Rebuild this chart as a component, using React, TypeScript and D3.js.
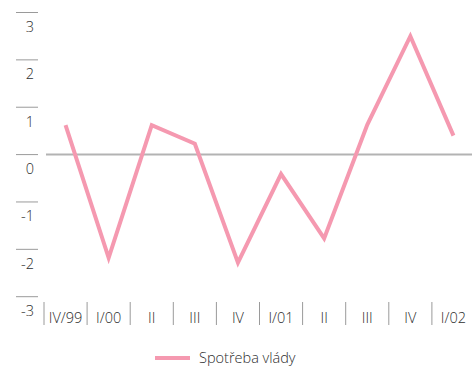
import React from "react";
import * as d3 from "d3";

// Quarterly contribution of government consumption, percentage points
const quarters = ["IV/99", "I/00", "II", "III", "IV", "I/01", "II", "III", "IV", "I/02"];
const governmentSpending = [0.62, -2.18, 0.62, 0.23, -2.28, -0.41, -1.77, 0.63, 2.5, 0.4];
const yTicks = [3, 2, 1, 0, -1, -2, -3];
const seriesName = "Spotřeba vlády";

const W = 472;
const H = 366;
const FONT = "'Open Sans', 'DejaVu Sans', sans-serif";
const FS = 14.5;
const TEXT = "#2e2e2e";
const PINK = "#f599b0";

export default function App() {
  const x = d3.scaleBand<string>().domain(quarters.map((_, i) => String(i))).range([44, 475]).padding(0);
  const y = d3.scaleLinear().domain([-3, 3]).range([296.7, 12.5]);
  const cx = (i: number) => (x(String(i)) as number) + x.bandwidth() / 2;

  const line = d3
    .line<number>()
    .x((_, i) => cx(i))
    .y((d) => y(d));

  return (
    <div style={{ position: "fixed", left: 0, top: 0, width: W, height: H }}>
      <svg width={W} height={H} style={{ display: "block", fontFamily: FONT, fontWeight: 300 }}>
        <rect width={W} height={H} fill="#fff" />
        {/* value axis: short rules with labels underneath */}
        {yTicks.map((t) => (
          <g key={t}>
            <line x1={16} x2={38} y1={y(t)} y2={y(t)} stroke="#9a9a9a" strokeWidth={1} />
            <text x={34} y={y(t) + 19.5} textAnchor="end" fontSize={FS} fill={TEXT}>
              {t}
            </text>
          </g>
        ))}
        {/* zero line */}
        <line x1={46} x2={W} y1={y(0)} y2={y(0)} stroke="#b3b3b3" strokeWidth={2} />
        {/* category axis */}
        {quarters.map((q, i) => (
          <g key={i}>
            <line
              x1={x(String(i)) as number}
              x2={x(String(i)) as number}
              y1={302}
              y2={325}
              stroke="#9a9a9a"
              strokeWidth={1}
            />
            <text x={cx(i)} y={323} textAnchor="middle" fontSize={FS} fill={TEXT}>
              {q}
            </text>
          </g>
        ))}
        <path d={line(governmentSpending) || ""} fill="none" stroke={PINK} strokeWidth={4} strokeLinejoin="miter" />
        {/* legend */}
        <line x1={155} x2={190} y1={358} y2={358} stroke={PINK} strokeWidth={4} />
        <text x={199} y={362.5} fontSize={FS} fill={TEXT}>
          {seriesName}
        </text>
      </svg>
    </div>
  );
}
